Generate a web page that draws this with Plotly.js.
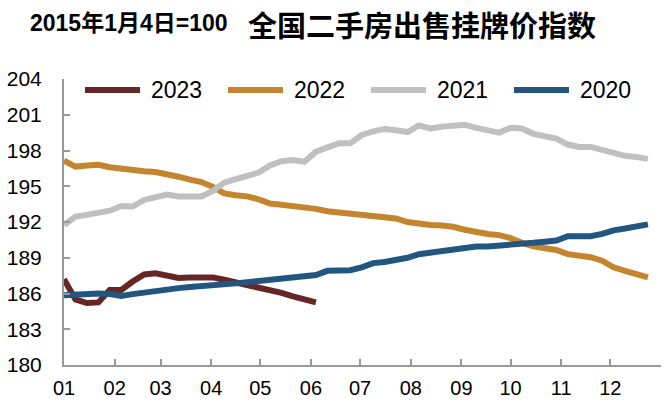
<!DOCTYPE html>
<html>
<head>
<meta charset="utf-8">
<script src="https://cdn.plot.ly/plotly-3.0.1.min.js"></script>
<style>html,body{margin:0;padding:0;background:#fff}#chart{width:671px;height:412px}</style>
</head>
<body>
<div id="chart"></div>
<script>
// Week positions within the year (shared by every year's series)
const weekDates = [
  "2021-01-01","2021-01-08","2021-01-15","2021-01-22","2021-01-29",
  "2021-02-05","2021-02-12","2021-02-19","2021-02-26",
  "2021-03-05","2021-03-12","2021-03-19","2021-03-26",
  "2021-04-02","2021-04-09","2021-04-16","2021-04-23","2021-04-30",
  "2021-05-07","2021-05-14","2021-05-21","2021-05-28",
  "2021-06-04","2021-06-11","2021-06-18","2021-06-25",
  "2021-07-02","2021-07-09","2021-07-16","2021-07-23","2021-07-30",
  "2021-08-06","2021-08-13","2021-08-20","2021-08-27",
  "2021-09-03","2021-09-10","2021-09-17","2021-09-24",
  "2021-10-01","2021-10-08","2021-10-15","2021-10-22","2021-10-29",
  "2021-11-05","2021-11-12","2021-11-19","2021-11-26",
  "2021-12-03","2021-12-10","2021-12-17","2021-12-24"
];
const monthTickVals = ["2021-01-01","2021-02-01","2021-03-01","2021-04-01","2021-05-01","2021-06-01",
  "2021-07-01","2021-08-01","2021-09-01","2021-10-01","2021-11-01","2021-12-01"];
const monthTickText = ["01","02","03","04","05","06","07","08","09","10","11","12"];
const yTickVals = [180,183,186,189,192,195,198,201,204];

const seriesNames = ["2023","2022","2021","2020"];
const v2023 = [187.2,185.5,185.2,185.25,186.3,186.3,187.0,187.6,187.7,187.45,187.3,187.35,187.4,187.35,
  187.15,186.95,186.7,186.45,186.25,186.05,185.75,185.5,185.25];
const v2022 = [197.15,196.65,196.75,196.8,196.6,196.45,196.3,196.25,196.2,196.05,195.8,195.55,195.35,194.95,
  194.4,194.25,194.15,193.9,193.55,193.45,193.35,193.25,193.1,192.9,192.8,192.7,192.6,192.45,192.35,192.3,
  192.0,191.85,191.75,191.7,191.6,191.35,191.15,191.0,190.9,190.65,190.25,189.95,189.8,189.65,189.3,189.2,
  189.05,188.75,188.2,187.9,187.6,187.35];
const v2021 = [191.75,192.45,192.6,192.75,192.95,193.35,193.3,193.85,194.05,194.3,194.15,194.1,194.15,194.6,
  195.3,195.6,195.85,196.15,196.75,197.1,197.2,197.05,197.9,198.3,198.6,198.6,199.3,199.6,199.8,199.7,
  199.55,200.1,199.85,200.0,200.1,200.15,199.9,199.7,199.5,199.9,199.85,199.4,199.2,199.0,198.5,198.3,
  198.3,198.05,197.75,197.55,197.45,197.3];
const v2020 = [185.85,185.9,186.0,186.0,185.95,185.8,185.95,186.1,186.2,186.3,186.45,186.55,186.6,186.7,
  186.8,186.85,186.95,187.05,187.15,187.25,187.3,187.45,187.55,187.9,187.95,187.95,188.2,188.55,188.65,188.8,
  189.0,189.3,189.45,189.6,189.75,189.85,189.95,189.95,190.0,190.05,190.15,190.25,190.35,190.45,190.8,190.85,
  190.8,191.0,191.3,191.45,191.6,191.8];
const seriesValues = [v2023, v2022, v2021, v2020];
const seriesColors = ["#672626","#C5852E","#C0C0C0","#22567F"];

const SANS = "'Liberation Sans',Arial,sans-serif";

const traces = seriesNames.map((name, i) => ({
  type: "scatter", mode: "lines", name: name,
  x: weekDates.slice(0, seriesValues[i].length),
  y: seriesValues[i],
  line: {color: seriesColors[i], width: 6},
  hoverinfo: "x+y+name"
}));

// custom legend (long line swatches like the reference)
const shapes = [], annotations = [];
const legStartPx = 85, legStepPx = 143, swatchPx = 55, plotL = 64, plotW = 597;
seriesNames.forEach((name, i) => {
  const x0 = (legStartPx + i * legStepPx - plotL) / plotW;
  const x1 = (legStartPx + i * legStepPx + swatchPx - plotL) / plotW;
  shapes.push({type: "line", xref: "paper", yref: "paper", x0: x0, x1: x1, y0: 0.9615, y1: 0.9615,
    line: {color: seriesColors[i], width: 6}, layer: "above"});
  annotations.push({xref: "paper", yref: "paper", x: x1 + 9 / plotW, y: 0.9615, xanchor: "left", yanchor: "middle",
    text: name, showarrow: false, font: {family: SANS, size: 23, color: "#000"}});
});
annotations.push({xref: "paper", yref: "paper", x: (28 - plotL) / plotW, y: (365 - 23) / 286,
  xanchor: "left", yanchor: "middle", showarrow: false,
  text: "<b>2015年1月4日=100</b>",
  font: {family: "'Liberation Sans','Noto Sans CJK SC',sans-serif", size: 23, color: "#000"}});

const layout = {
  width: 671, height: 412,
  margin: {l: 64, r: 10, t: 79, b: 47, pad: 0},
  paper_bgcolor: "#fff", plot_bgcolor: "#fff",
  showlegend: false,
  title: {text: "<b>全国二手房出售挂牌价指数</b>", x: 422 / 671, xanchor: "center", xref: "container",
    y: 1 - 27 / 412, yanchor: "middle", yref: "container",
    font: {family: "'Noto Sans CJK SC',sans-serif", size: 29, color: "#000"}},
  xaxis: {
    type: "date", range: ["2021-01-01", "2022-01-01"],
    tickmode: "array", tickvals: monthTickVals, ticktext: monthTickText,
    ticks: "inside", ticklen: 6, tickwidth: 2, tickcolor: "#999",
    showline: true, linecolor: "#999", linewidth: 2,
    showgrid: false, zeroline: false,
    tickfont: {family: SANS, size: 20, color: "#000"},
    ticklabelstandoff: 4
  },
  yaxis: {
    range: [180, 204], tickmode: "array", tickvals: yTickVals,
    ticks: "inside", ticklen: 6, tickwidth: 2, tickcolor: "#999",
    showline: true, linecolor: "#999", linewidth: 2,
    showgrid: false, zeroline: false,
    tickfont: {family: SANS, size: 21, color: "#000"},
    ticklabelstandoff: 16
  },
  shapes: shapes, annotations: annotations
};

Plotly.newPlot("chart", traces, layout, {displayModeBar: false, staticPlot: true});
</script>
</body>
</html>
